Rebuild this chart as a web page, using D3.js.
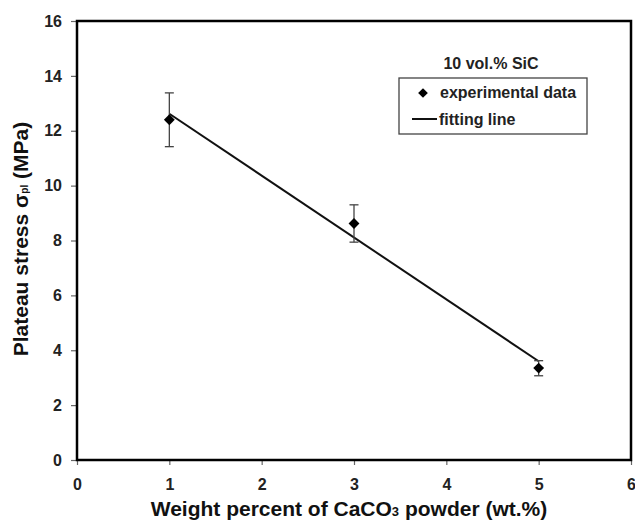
<!DOCTYPE html>
<html>
<head>
<meta charset="utf-8">
<script src="https://cdn.jsdelivr.net/npm/d3@7"></script>
<style>
  body { margin: 0; background: #fff; }
  svg { font-family: "Liberation Sans", Arial, sans-serif; }
</style>
</head>
<body>
<div id="chart"></div>
<script>
// data
const wtPercent = [1, 3, 5];
const plateauStress = [12.4, 8.62, 3.35];
const errPlus = [0.98, 0.68, 0.27];
const errMinus = [0.98, 0.68, 0.28];
const fitX = [1, 5];
const fitY = [12.62, 3.6];
const xTicks = [0, 1, 2, 3, 4, 5, 6];
const yTicks = [0, 2, 4, 6, 8, 10, 12, 14, 16];

const W = 635, H = 530;
const margin = { top: 21, right: 4, bottom: 70, left: 77 };

const svg = d3.select("#chart").append("svg")
  .attr("width", W).attr("height", H);

const x = d3.scaleLinear().domain([0, 6]).range([margin.left, W - margin.right]);
const y = d3.scaleLinear().domain([0, 16]).range([H - margin.bottom, margin.top]);

// ==================================================
// Axes
// ==================================================
const xAxis = svg.append("g")
  .attr("transform", `translate(0,${y(0)})`)
  .call(d3.axisBottom(x).tickValues(xTicks).tickSize(5).tickPadding(14).tickFormat(d3.format("d")));

const yAxis = svg.append("g")
  .attr("transform", `translate(${x(0)},0)`)
  .call(d3.axisLeft(y).tickValues(yTicks).tickSize(6).tickPadding(9).tickFormat(d3.format("d")));

[xAxis, yAxis].forEach(a => {
  a.select(".domain").remove();
  a.selectAll(".tick line").attr("stroke", "#666").attr("stroke-width", 1.2);
  a.selectAll(".tick text")
    .attr("fill", "#222")
    .style("font-size", "16px")
    .style("font-weight", "bold");
});

// plot frame
svg.append("rect")
  .attr("x", x(0)).attr("y", y(16))
  .attr("width", x(6) - x(0)).attr("height", y(0) - y(16))
  .attr("fill", "none")
  .attr("stroke", "#000")
  .attr("stroke-width", 2.5);

// ==================================================
// Fitting line + data
// ==================================================
const line = d3.line().x(d => x(d[0])).y(d => y(d[1]));
svg.append("path")
  .attr("d", line(fitX.map((v, i) => [v, fitY[i]])))
  .attr("fill", "none")
  .attr("stroke", "#111")
  .attr("stroke-width", 2);

const capW = 4.5;
wtPercent.forEach((v, i) => {
  const cx = x(v);
  const top = y(plateauStress[i] + errPlus[i]);
  const bot = y(plateauStress[i] - errMinus[i]);
  const g = svg.append("g").attr("stroke", "#444").attr("stroke-width", 1.3);
  g.append("line").attr("x1", cx).attr("x2", cx).attr("y1", top).attr("y2", bot);
  g.append("line").attr("x1", cx - capW).attr("x2", cx + capW).attr("y1", top).attr("y2", top);
  g.append("line").attr("x1", cx - capW).attr("x2", cx + capW).attr("y1", bot).attr("y2", bot);
});

svg.selectAll(".pt")
  .data(wtPercent)
  .join("path")
  .attr("class", "pt")
  .attr("transform", (d, i) => `translate(${x(d)},${y(plateauStress[i])})`)
  .attr("d", d3.symbol(d3.symbolDiamond2, 75))
  .attr("fill", "#000");

// ==================================================
// Legend
// ==================================================
const legendFont = "16px";

svg.append("text")
  .attr("x", 491).attr("y", 69)
  .attr("text-anchor", "middle")
  .style("font-size", legendFont)
  .style("font-weight", "bold")
  .attr("fill", "#222")
  .text("10 vol.% SiC");

svg.append("rect")
  .attr("x", 399).attr("y", 78)
  .attr("width", 188).attr("height", 56)
  .attr("fill", "#fff")
  .attr("stroke", "#444")
  .attr("stroke-width", 1.3);

svg.append("path")
  .attr("transform", "translate(423,93)")
  .attr("d", d3.symbol(d3.symbolDiamond2, 60))
  .attr("fill", "#000");
svg.append("text")
  .attr("x", 440).attr("y", 98)
  .style("font-size", legendFont).style("font-weight", "bold")
  .attr("fill", "#222")
  .text("experimental data");

svg.append("line")
  .attr("x1", 412).attr("x2", 437).attr("y1", 119).attr("y2", 119)
  .attr("stroke", "#111").attr("stroke-width", 2);
svg.append("text")
  .attr("x", 439).attr("y", 124.5)
  .style("font-size", legendFont).style("font-weight", "bold")
  .attr("fill", "#222")
  .text("fitting line");

// ==================================================
// Axis titles
// ==================================================
const xt = svg.append("text")
  .attr("x", 349).attr("y", 516)
  .attr("text-anchor", "middle")
  .style("font-size", "21px").style("font-weight", "bold")
  .attr("fill", "#111");
xt.append("tspan").text("Weight percent of CaCO");
xt.append("tspan").style("font-size", "13px").text("3");
xt.append("tspan").text(" powder (wt.%)");

const yt = svg.append("text")
  .attr("transform", "translate(28,239) rotate(-90)")
  .attr("text-anchor", "middle")
  .style("font-size", "21px").style("font-weight", "bold")
  .attr("fill", "#111");
yt.append("tspan").text("Plateau stress  σ");
yt.append("tspan").style("font-size", "10px").text("pl");
yt.append("tspan").text(" (MPa)");
</script>
</body>
</html>
